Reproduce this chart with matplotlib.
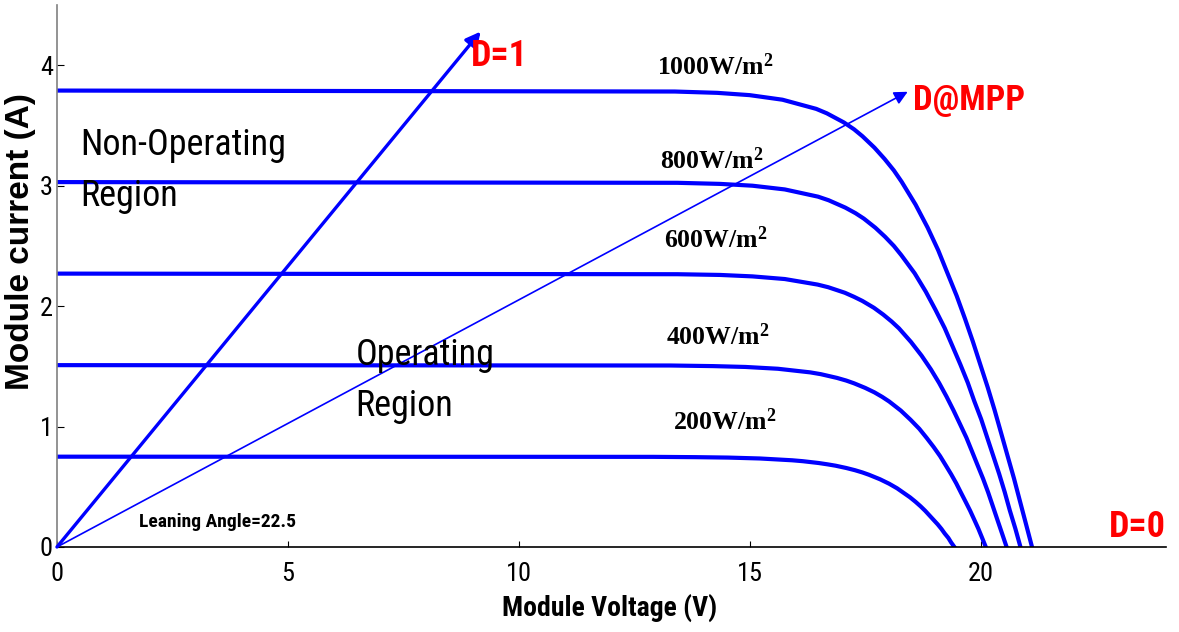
# I-V curves of a PV module at five irradiance levels, with duty-cycle arrows
import matplotlib
matplotlib.use("Agg")
import matplotlib.pyplot as plt
from matplotlib import font_manager

# ---- data (V in volts, I in amps) ----
v_1000 = [0, 13.37, 14.29, 14.99, 15.70, 16.43, 16.66, 17.03, 17.25, 17.43, 17.69, 17.91,
          18.11, 18.28, 18.58, 18.84, 19.07, 19.27, 19.47, 19.65, 19.82, 19.98, 20.14,
          20.29, 20.43, 20.57, 20.71, 20.84, 20.97, 21.10]
i_1000 = [3.79, 3.782, 3.771, 3.752, 3.714, 3.638, 3.601, 3.525, 3.468, 3.411, 3.316, 3.222,
          3.127, 3.032, 2.843, 2.653, 2.464, 2.274, 2.085, 1.895, 1.706, 1.516, 1.327,
          1.137, 0.948, 0.758, 0.569, 0.379, 0.190, 0]

v_800 = [0, 13.43, 14.35, 15.05, 15.75, 16.47, 16.70, 17.06, 17.28, 17.46, 17.71, 17.92,
         18.11, 18.27, 18.56, 18.80, 19.01, 19.21, 19.38, 19.55, 19.71, 19.85, 20.00,
         20.13, 20.26, 20.39, 20.51, 20.62, 20.74, 20.85]
i_800 = [3.03, 3.024, 3.015, 3.000, 2.969, 2.909, 2.879, 2.818, 2.772, 2.727, 2.651, 2.576,
         2.500, 2.424, 2.273, 2.121, 1.970, 1.818, 1.667, 1.515, 1.364, 1.212, 1.061,
         0.909, 0.758, 0.606, 0.455, 0.303, 0.152, 0]

v_600 = [0, 13.43, 14.35, 15.05, 15.75, 16.46, 16.69, 17.05, 17.25, 17.43, 17.68, 17.88,
         18.06, 18.22, 18.48, 18.71, 18.91, 19.09, 19.25, 19.40, 19.54, 19.68, 19.80,
         19.92, 20.04, 20.15, 20.25, 20.35, 20.45, 20.55]
i_600 = [2.27, 2.265, 2.259, 2.247, 2.225, 2.179, 2.157, 2.111, 2.077, 2.043, 1.986, 1.930,
         1.873, 1.816, 1.703, 1.589, 1.476, 1.362, 1.249, 1.135, 1.022, 0.908, 0.795,
         0.681, 0.568, 0.454, 0.341, 0.227, 0.114, 0]

v_400 = [0, 13.28, 14.20, 14.90, 15.60, 16.30, 16.53, 16.88, 17.08, 17.25, 17.49, 17.69,
         17.86, 18.01, 18.26, 18.47, 18.66, 18.82, 18.97, 19.11, 19.23, 19.35, 19.46,
         19.56, 19.66, 19.76, 19.85, 19.94, 20.02, 20.10]
i_400 = [1.51, 1.507, 1.502, 1.495, 1.480, 1.450, 1.435, 1.404, 1.382, 1.359, 1.321, 1.284,
         1.246, 1.208, 1.133, 1.057, 0.982, 0.906, 0.831, 0.755, 0.680, 0.604, 0.529,
         0.453, 0.378, 0.302, 0.227, 0.151, 0.076, 0]

v_200 = [0, 12.91, 13.82, 14.52, 15.21, 15.91, 16.14, 16.48, 16.68, 16.85, 17.08, 17.27,
         17.43, 17.57, 17.81, 18.01, 18.18, 18.32, 18.46, 18.58, 18.69, 18.79, 18.88,
         18.97, 19.06, 19.14, 19.21, 19.29, 19.35, 19.42]
i_200 = [0.75, 0.7485, 0.746, 0.7425, 0.735, 0.72, 0.7125, 0.6975, 0.686, 0.675, 0.656, 0.6375,
         0.619, 0.6, 0.5625, 0.525, 0.4875, 0.45, 0.4125, 0.375, 0.3375, 0.3, 0.2625,
         0.225, 0.1875, 0.15, 0.1125, 0.075, 0.0375, 0]

curve_labels = [r"1000W/m$^2$", r"800W/m$^2$", r"600W/m$^2$", r"400W/m$^2$", r"200W/m$^2$"]
label_pos = [(14.24, 3.92), (14.16, 3.14), (14.26, 2.48), (14.29, 1.675), (14.44, 0.975)]

# duty-cycle arrows: start and tip
arrow_d1 = [(0, 0), (9.17, 4.28)]
arrow_mpp = [(0, 0), (18.41, 3.78)]

x_ticks = [0, 5, 10, 15, 20]
y_ticks = [0, 1, 2, 3, 4]


def pick_narrow():
    """ look for a narrow / condensed sans font, the original text is squeezed
    """
    ttf = font_manager.fontManager.ttflist
    names = {f.name for f in ttf}
    for p in ["Liberation Sans Narrow", "Arial Narrow", "Roboto Condensed",
              "Open Sans Condensed", "Noto Sans Condensed", "DejaVu Sans Condensed"]:
        if p in names:
            return p, "normal", 1.0
    for f in ttf:
        if f.stretch in ("condensed", "semi-condensed") and f.name in (
                "Noto Sans", "Roboto", "Open Sans", "DejaVu Sans", "Inter", "Lato"):
            return f.name, f.stretch, 1.0
    return "Liberation Sans", "normal", 0.85


narrow, stretch, k = pick_narrow()
nfont = dict(family=narrow, fontstretch=stretch)

plt.rcParams["mathtext.fontset"] = "custom"
plt.rcParams["mathtext.rm"] = "Liberation Serif:bold"
plt.rcParams["mathtext.it"] = "Liberation Serif:bold"
plt.rcParams["mathtext.bf"] = "Liberation Serif:bold"

fig = plt.figure(figsize=(11.79, 6.32), dpi=100)
ax = fig.add_axes([0.0483, 0.1345, 0.9407, 0.8575])

blue = "#0000ff"
for v, i in [(v_1000, i_1000), (v_800, i_800), (v_600, i_600), (v_400, i_400), (v_200, i_200)]:
    ax.plot(v, i, color=blue, lw=3, solid_joinstyle="round")

ax.annotate("", xy=arrow_d1[1], xytext=arrow_d1[0],
            arrowprops=dict(arrowstyle="-|>", color=blue, lw=2.4, mutation_scale=22,
                            shrinkA=0, shrinkB=0))
ax.annotate("", xy=arrow_mpp[1], xytext=arrow_mpp[0],
            arrowprops=dict(arrowstyle="-|>", color=blue, lw=1.2, mutation_scale=20,
                            shrinkA=0, shrinkB=0))

for lab, (x, y) in zip(curve_labels, label_pos):
    ax.text(x, y, lab, ha="center", va="baseline", fontsize=18.5,
            family="Liberation Serif", weight="bold", color="black")

red = "#ff0000"
ax.text(8.95, 4.08, "D=1", color=red, fontsize=26 * k, weight="bold",
        ha="left", va="center", **nfont)
ax.text(18.53, 3.71, "D@MPP", color=red, fontsize=25 * k, weight="bold",
        ha="left", va="center", **nfont)
ax.text(24.0, 0.167, "D=0", color=red, fontsize=26 * k, weight="bold",
        ha="right", va="center", **nfont)

ax.text(0.5, 3.49, "Non-Operating\nRegion", fontsize=26 * k,
        ha="left", va="top", linespacing=1.55, **nfont)
ax.text(6.46, 1.745, "Operating\nRegion", fontsize=26 * k,
        ha="left", va="top", linespacing=1.55, **nfont)
ax.text(1.78, 0.17, "Leaning Angle=22.5", fontsize=14 * k,
        weight="bold", ha="left", va="baseline", **nfont)

ax.set_xlim(0, 24)
ax.set_ylim(0, 4.5)
ax.set_xticks(x_ticks)
ax.set_yticks(y_ticks)
for lbl in ax.get_xticklabels() + ax.get_yticklabels():
    lbl.set_family(narrow)
    lbl.set_stretch(stretch)
    lbl.set_fontsize(19 if k == 1.0 else 17)
ax.tick_params(axis="x", direction="in", length=4, width=0.8, pad=11)
ax.tick_params(axis="y", direction="in", length=5, width=0.8, pad=3)

ax.spines["top"].set_visible(False)
ax.spines["right"].set_visible(False)
ax.spines["left"].set_color("#808080")
ax.spines["left"].set_linewidth(1.2)
ax.spines["bottom"].set_color("black")
ax.spines["bottom"].set_linewidth(1.2)

ax.set_xlabel("Module Voltage (V)", fontsize=20 * k, weight="bold", **nfont)
ax.xaxis.set_label_coords(0.498, -0.113)
ax.set_ylabel("Module current (A)", fontsize=24, family="Liberation Sans", weight="bold")
ax.yaxis.set_label_coords(-0.0325, 0.563)
ax.yaxis.label.set_va("center")
ax.xaxis.label.set_va("center")

fig.savefig("out.png", dpi=100)
